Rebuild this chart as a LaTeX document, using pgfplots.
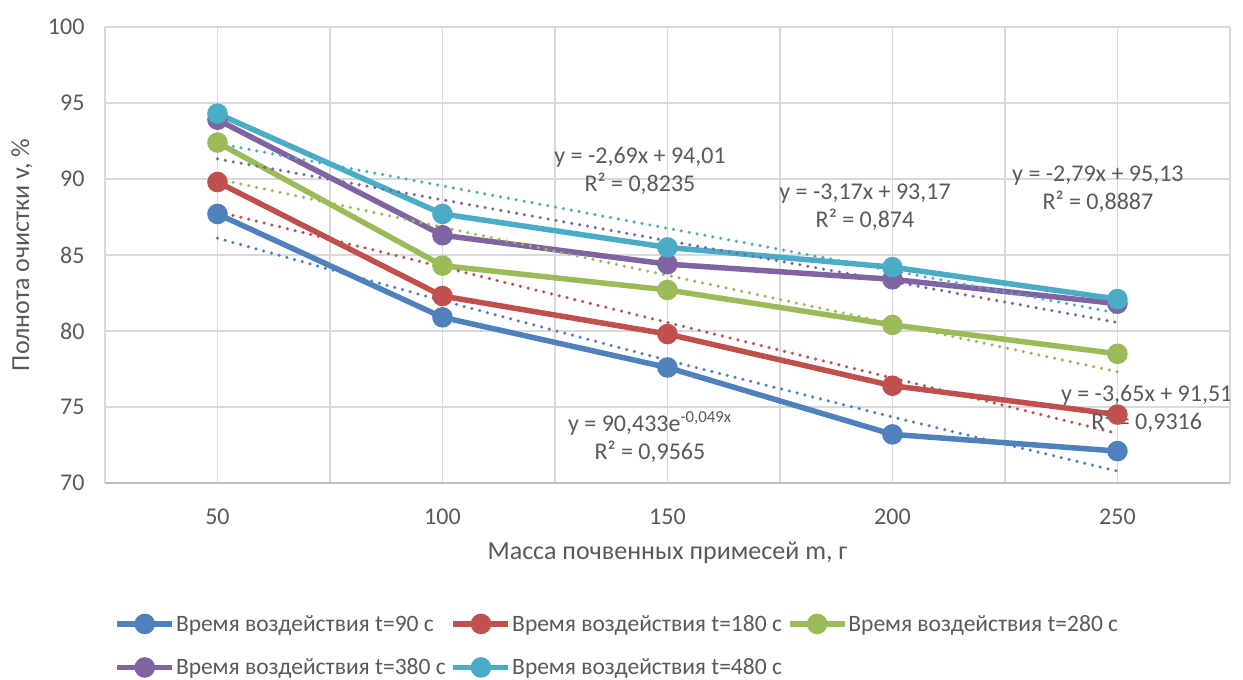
\documentclass[border=0pt]{standalone}
\usepackage{fontspec}
\setmainfont{Carlito}
\usepackage{pgfplots}
\pgfplotsset{compat=1.18}
\definecolor{s1}{HTML}{4F81BD}
\definecolor{s2}{HTML}{C0504D}
\definecolor{s3}{HTML}{9BBB59}
\definecolor{s4}{HTML}{8064A2}
\definecolor{s5}{HTML}{4BACC6}
\definecolor{txt}{HTML}{595959}
\definecolor{grd}{HTML}{D9D9D9}
\definecolor{axl}{HTML}{BFBFBF}
\begin{document}
\begin{tikzpicture}
\useasboundingbox (-105bp,-197bp) rectangle (1138bp,483bp);
\begin{axis}[
  scale only axis, width=1125bp, height=456bp,
  xmin=0.5, xmax=5.5, ymin=70, ymax=100,
  xtick={1,2,3,4,5}, xticklabels={50,100,150,200,250},
  minor xtick={0.5,1.5,2.5,3.5,4.5,5.5},
  ytick={70,75,80,85,90,95,100},
  /pgf/number format/assume math mode=true,
  xmajorgrids, xminorgrids, ymajorgrids,
  grid style={grd, line width=1.5bp},
  minor grid style={grd, line width=1.5bp},
  separate axis lines,
  axis x line*=bottom, axis y line*=left,
  x axis line style={axl, line width=1.5bp, -},
  y axis line style={draw=none, -},
  major tick length=0pt, minor tick length=0pt,
  tick label style={font=\fontsize{24bp}{28bp}\selectfont, text=txt},
  yticklabel style={xshift=-17bp},
  xticklabel style={yshift=-22bp},
  every axis y label/.style={at={(axis description cs:-0.0738,0.5)}, rotate=90, anchor=center, font=\fontsize{26bp}{30bp}\selectfont, text=txt},
  every axis x label/.style={at={(axis description cs:0.5,-0.1535)}, anchor=center, font=\fontsize{26bp}{30bp}\selectfont, text=txt},
  xlabel={Масса почвенных примесей m, г},
  ylabel={Полнота очистки v, \%},
  legend style={at={(axis description cs:0.455,-0.285)}, anchor=north, legend columns=3, draw=none, fill=none,
    font=\fontsize{23.5bp}{27bp}\selectfont, text=txt, row sep=26bp,
    nodes={inner xsep=1bp, inner ysep=0bp},
    /tikz/every even column/.append style={column sep=4bp}},
  legend cell align=left,
  legend image code/.code={\draw[mark repeat=2, mark phase=2, #1] plot coordinates {(0bp,0bp) (27.5bp,0bp) (55bp,0bp)};},
  every axis plot/.append style={line width=5.5bp, mark=*, mark size=7.5bp, mark options={solid}},
  tr/.style={forget plot, no marks, line width=3.5bp, line cap=round, dash pattern=on 0bp off 8bp},
]
\addplot[s1] coordinates {(1,87.7) (2,80.9) (3,77.6) (4,73.2) (5,72.1)};
\addlegendentry{Время воздействия t=90 с}
\addplot[s2] coordinates {(1,89.8) (2,82.3) (3,79.8) (4,76.4) (5,74.5)};
\addlegendentry{Время воздействия t=180 с}
\addplot[s3] coordinates {(1,92.4) (2,84.3) (3,82.7) (4,80.4) (5,78.5)};
\addlegendentry{Время воздействия t=280 с}
\addplot[s4] coordinates {(1,93.9) (2,86.3) (3,84.4) (4,83.4) (5,81.8)};
\addlegendentry{Время воздействия t=380 с}
\addplot[s5] coordinates {(1,94.3) (2,87.7) (3,85.5) (4,84.2) (5,82.1)};
\addlegendentry{Время воздействия t=480 с}
% trendlines
\addplot[s1, tr] coordinates {(1,86.11) (2,81.99) (3,78.07) (4,74.34) (5,70.78)};
\addplot[s2, tr] coordinates {(1,87.86) (2,84.21) (3,80.56) (4,76.91) (5,73.26)};
\addplot[s3, tr] coordinates {(1,90.00) (2,86.83) (3,83.66) (4,80.49) (5,77.32)};
\addplot[s4, tr] coordinates {(1,91.32) (2,88.63) (3,85.94) (4,83.25) (5,80.56)};
\addplot[s5, tr] coordinates {(1,92.34) (2,89.55) (3,86.76) (4,83.97) (5,81.18)};
\begin{scope}[every node/.style={font=\fontsize{24bp}{28bp}\selectfont, text=txt, align=center}]
\node at (axis cs:2.878,90.5) {y = -2,69x + 94,01\\R² = 0,8235};
\node at (axis cs:3.878,88.16) {y = -3,17x + 93,17\\R² = 0,874};
\node at (axis cs:4.913,89.34) {y = -2,79x + 95,13\\R² = 0,8887};
\node at (axis cs:5.13,74.87) {y = -3,65x + 91,51\\R² = 0,9316};
\node at (axis cs:2.922,73.03) {y = 90,433e\textsuperscript{-0,049x}\\R² = 0,9565};
\end{scope}
\end{axis}
\end{tikzpicture}
\end{document}
